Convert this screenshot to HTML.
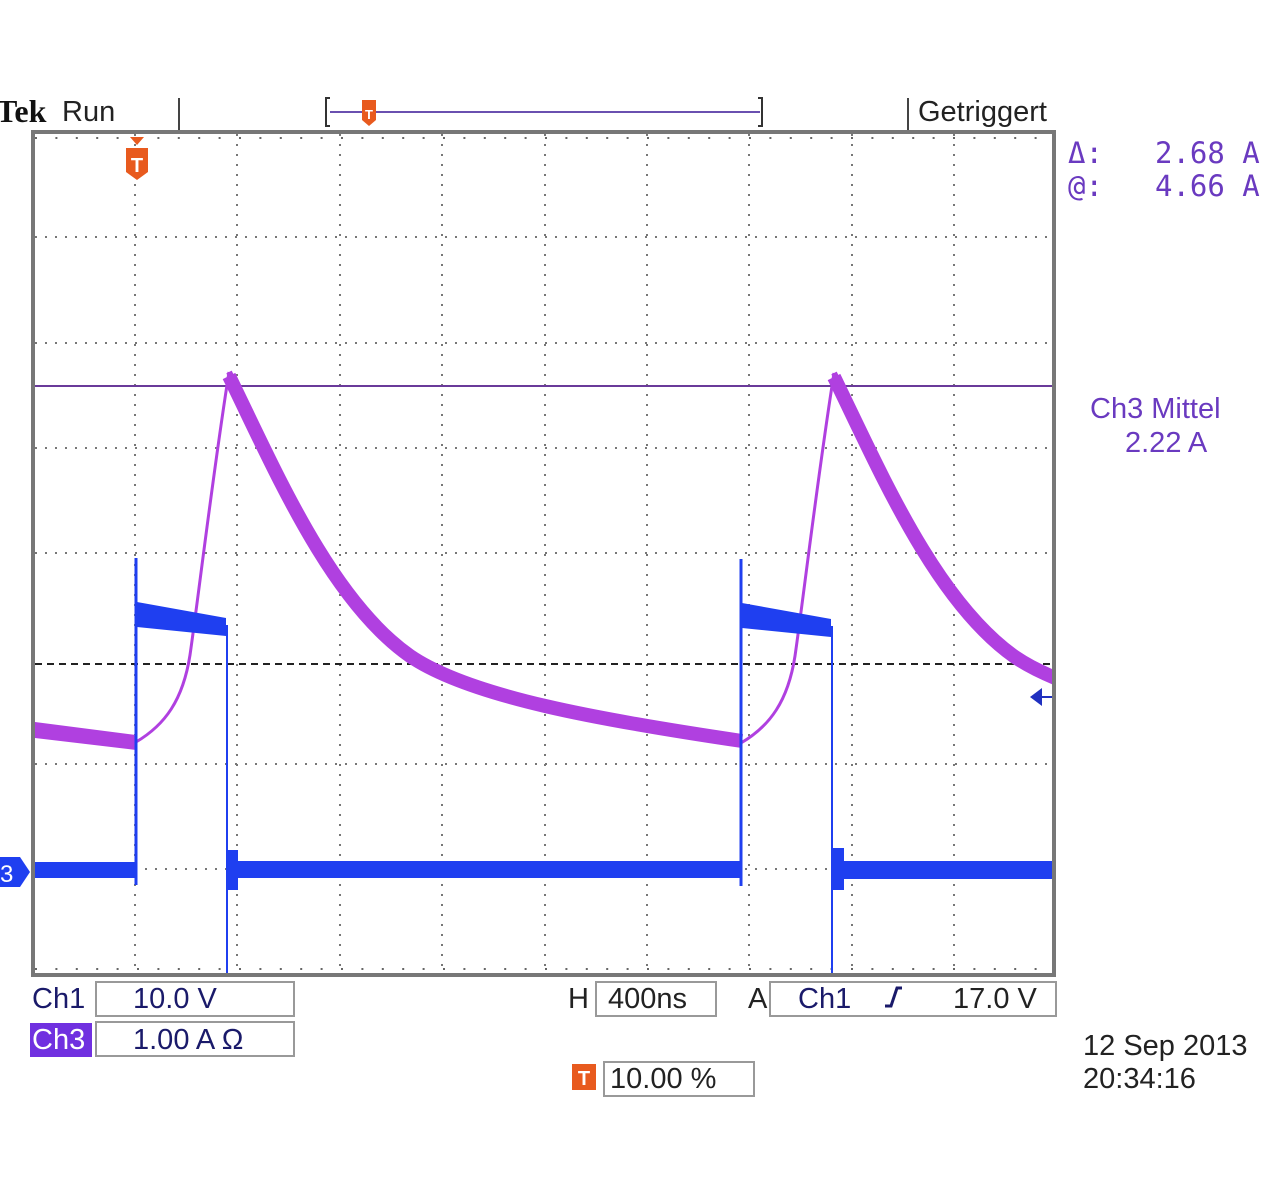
<!DOCTYPE html>
<html><head><meta charset="utf-8"><style>
html,body{margin:0;padding:0;background:#fff;}
body{width:1280px;height:1190px;overflow:hidden;font-family:"Liberation Sans","DejaVu Sans",sans-serif;}
</style></head><body>
<svg width="1280" height="1190" viewBox="0 0 1280 1190" xmlns="http://www.w3.org/2000/svg">
<defs>
<clipPath id="pc"><rect x="35" y="134" width="1017" height="839"/></clipPath>
<g id="cyc">
<path d="M136 742 C165 725 183 700 190 655 C198 600 212 480 229 372" fill="none" stroke="#b040e0" stroke-width="3"/>
<path d="M229 376 C275 470 330 600 410 656 C470 697 600 720 742 741" fill="none" stroke="#b040e0" stroke-width="14"/>
<path d="M229 372 L236 386" stroke="#b040e0" stroke-width="6"/>
<line x1="136" y1="885" x2="136" y2="558" stroke="#1f3ff0" stroke-width="3"/>
<path d="M137 602 L226 618 L226 636 L137 627Z" fill="#1f3ff0"/>
<line x1="227" y1="625" x2="227" y2="975" stroke="#1f3ff0" stroke-width="2"/>
</g>
</defs>
<!-- header -->
<text x="-4" y="122" font-size="32" font-weight="bold" font-family="Liberation Serif,serif" fill="#111">Tek</text>
<text x="62" y="121" font-size="29" fill="#222">Run</text>
<line x1="179" y1="98" x2="179" y2="130" stroke="#444" stroke-width="2"/>
<path d="M330 98 h-4 v28 h4 M758 98 h4 v28 h-4" stroke="#333" stroke-width="2" fill="none"/>
<line x1="330" y1="112" x2="760" y2="112" stroke="#6a50b0" stroke-width="2"/>
<path d="M362 100 h14 v20 l-7 6 l-7 -6z" fill="#e85a1e"/>
<text x="369" y="119" font-size="13" fill="#fff" text-anchor="middle" font-weight="bold">T</text>
<line x1="908" y1="98" x2="908" y2="130" stroke="#444" stroke-width="2"/>
<text x="918" y="121" font-size="29" fill="#222">Getriggert</text>
<!-- plot frame -->
<rect x="33" y="132" width="1021" height="843" fill="#fff" stroke="#777" stroke-width="4"/>
<!-- grid -->
<g stroke="#777" stroke-width="2" stroke-dasharray="2 8">
<line x1="135" y1="134" x2="135" y2="973"/><line x1="237" y1="134" x2="237" y2="973"/>
<line x1="340" y1="134" x2="340" y2="973"/><line x1="442" y1="134" x2="442" y2="973"/>
<line x1="545" y1="134" x2="545" y2="973"/><line x1="647" y1="134" x2="647" y2="973"/>
<line x1="749" y1="134" x2="749" y2="973"/><line x1="852" y1="134" x2="852" y2="973"/>
<line x1="954" y1="134" x2="954" y2="973"/>
<line x1="35" y1="237" x2="1052" y2="237"/><line x1="35" y1="343" x2="1052" y2="343"/>
<line x1="35" y1="448" x2="1052" y2="448"/><line x1="35" y1="553" x2="1052" y2="553"/>
<line x1="35" y1="764" x2="1052" y2="764"/><line x1="35" y1="869" x2="1052" y2="869"/>
</g>
<g stroke="#666" stroke-width="2">
<line x1="35" y1="138" x2="1052" y2="138" stroke-dasharray="2 18.4"/>
<line x1="35" y1="969" x2="1052" y2="969" stroke-dasharray="2 18.4"/>
</g>
<!-- cursors -->
<line x1="35" y1="386" x2="1052" y2="386" stroke="#6a3a9a" stroke-width="2"/>
<line x1="35" y1="664" x2="1052" y2="664" stroke="#222" stroke-width="2" stroke-dasharray="7 5"/>
<!-- trigger marker -->
<path d="M126 148 h22 v24 l-11 8 l-11 -8z" fill="#e85a1e"/>
<path d="M130 137 l7 8 l7 -8z" fill="#e85a1e"/>
<text x="137" y="172" font-size="20" fill="#fff" text-anchor="middle" font-weight="bold">T</text>
<!-- traces -->
<g clip-path="url(#pc)">
<polygon points="35,722 136,735 136,750 35,738" fill="#b040e0"/>
<use href="#cyc"/>
<use href="#cyc" transform="translate(605,1)"/>
<rect x="35" y="862" width="101" height="16" fill="#1f3ff0"/>
<rect x="228" y="861" width="514" height="17" fill="#1f3ff0"/>
<rect x="228" y="850" width="10" height="40" fill="#1f3ff0"/>
<rect x="832" y="861" width="220" height="18" fill="#1f3ff0"/>
<rect x="832" y="848" width="12" height="42" fill="#1f3ff0"/>
</g>
<path d="M1030 697 l12 -9 v18z" fill="#2030c0"/>
<line x1="1040" y1="697" x2="1052" y2="697" stroke="#2030c0" stroke-width="2"/>
<path d="M0 857 h20 l10 15 l-10 15 h-20z" fill="#1f3ff0"/>
<text x="0" y="882" font-size="24" fill="#fff">3</text>
<!-- right readouts -->
<g fill="#6a3ac0" font-size="29" font-family="DejaVu Sans Mono,Liberation Mono,monospace">
<text x="1068" y="163">Δ:</text><text x="1155" y="163">2.68 A</text>
<text x="1068" y="196">@:</text><text x="1155" y="196">4.66 A</text>
</g>
<g fill="#6a3ac0" font-size="29">
<text x="1090" y="418">Ch3 Mittel</text>
<text x="1125" y="452">2.22 A</text>
</g>
<!-- bottom readouts -->
<g font-size="29" fill="#1a1a6a">
<text x="32" y="1008">Ch1</text>
<rect x="96" y="982" width="198" height="34" fill="none" stroke="#999" stroke-width="2"/>
<text x="133" y="1008">10.0 V</text>
<rect x="30" y="1023" width="62" height="34" fill="#7030e0"/>
<text x="32" y="1049" fill="#fff">Ch3</text>
<rect x="96" y="1022" width="198" height="34" fill="none" stroke="#999" stroke-width="2"/>
<text x="133" y="1049">1.00 A Ω</text>
<text x="568" y="1008" fill="#222">H</text>
<rect x="596" y="982" width="120" height="34" fill="none" stroke="#999" stroke-width="2"/>
<text x="608" y="1008" fill="#222">400ns</text>
<text x="748" y="1008" fill="#222">A</text>
<rect x="770" y="982" width="286" height="34" fill="none" stroke="#999" stroke-width="2"/>
<text x="798" y="1008">Ch1</text>
<path d="M885 1006 h6 l6 -18 h5" stroke="#1a1a6a" stroke-width="3" fill="none"/>
<text x="953" y="1008" fill="#222">17.0 V</text>
<rect x="572" y="1064" width="24" height="26" fill="#e85a1e"/>
<text x="584" y="1085" font-size="20" fill="#fff" text-anchor="middle" font-weight="bold">T</text>
<rect x="604" y="1062" width="150" height="34" fill="none" stroke="#999" stroke-width="2"/>
<text x="610" y="1088" fill="#222">10.00 %</text>
<text x="1083" y="1055" fill="#222">12 Sep  2013</text>
<text x="1083" y="1088" fill="#222">20:34:16</text>
</g>
</svg>
</body></html>
